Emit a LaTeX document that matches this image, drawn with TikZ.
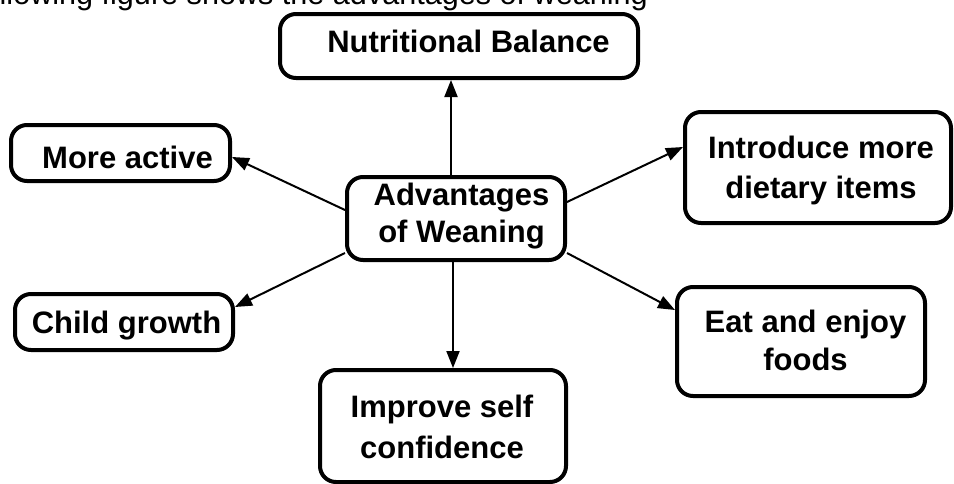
\documentclass[tikz,border=0pt]{standalone}
\usepackage{fontspec}
\setmainfont{Liberation Sans}
\usetikzlibrary{arrows.meta}
\begin{document}
\begin{tikzpicture}[x=1pt,y=-1pt,
  box/.style={draw=black, line width=4pt, rounded corners=16pt, inner sep=0pt, fill=white},
  txt/.style={inner sep=0pt, align=center, font=\bfseries\fontsize{31}{#1}\selectfont},
  txt/.default=38,
  arr/.style={line width=2pt, -{Triangle[length=17pt,width=13pt]}}
]
\useasboundingbox (0,0) rectangle (954,483);
\fill[white] (0,0) rectangle (954,483);
\clip (0,0) rectangle (954,483);
\node[anchor=base east, inner sep=0pt, font=\fontsize{30.6}{36}\selectfont] (cap) at (648,4.5) {following figure shows the advantages of weaning};
% boxes
\node[box, minimum width=358pt, minimum height=64pt] (N) at (459,46) {};
\node[box, minimum width=219pt, minimum height=56pt] (M) at (120.5,153) {};
\node[box, minimum width=218pt, minimum height=56pt] (C) at (124,322) {};
\node[box, minimum width=218pt, minimum height=83pt] (A) at (456,218.5) {};
\node[box, minimum width=266pt, minimum height=111pt] (I) at (818,167.5) {};
\node[box, minimum width=248pt, minimum height=109pt] (E) at (801,341.5) {};
\node[box, minimum width=246pt, minimum height=112pt] (P) at (443,426) {};
% connectors
\draw[arr] ([xshift=-5pt]A.north) -- ([xshift=-8pt]N.south);
\draw[arr] ([xshift=-3pt]A.south) -- ([xshift=10pt]P.north);
\draw[arr] ([yshift=8.5pt]A.west) -- ([yshift=-4pt]M.east);
\draw[arr] ([yshift=-34.5pt]A.west) -- ([yshift=15pt]C.east);
\draw[arr] ([yshift=16.5pt]A.east) -- ([yshift=20.5pt]I.west);
\draw[arr] ([yshift=-34.5pt]A.east) -- ([yshift=31.5pt]E.west);
% texts
\node[txt] (tN) at (468.5,44.4) {\strut Nutritional Balance};
\node[txt] (tM) at (127.5,160.4) {\strut More active};
\node[txt] (tC) at (126.5,325.4) {\strut Child growth};
\node[txt=37] (tA) at (461.5,216.1) {\strut Advantages\\\strut of Weaning};
\node[txt=40] (tI) at (821,170) {\strut Introduce more\\\strut dietary items};
\node[txt=38] (tE) at (805.5,343.4) {\strut Eat and enjoy\\\strut foods};
\node[txt=41] (tP) at (442,429.3) {\strut Improve self\\\strut confidence};
\end{tikzpicture}
\end{document}
